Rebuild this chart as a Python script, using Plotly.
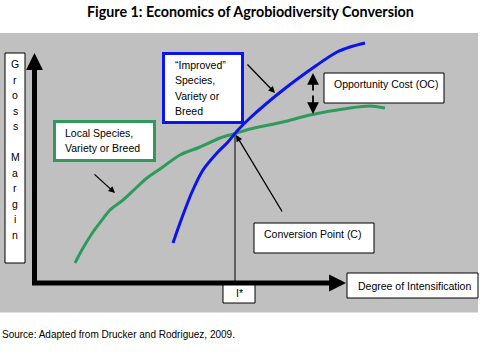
import plotly.graph_objects as go

# Conceptual data: degree of intensification (x) vs gross margin (y)
local_x = [40, 48, 58, 67, 75, 88, 102, 112, 125, 145, 165, 185, 202, 215, 248, 275, 315, 335, 350]
local_y = [20, 35, 51, 63, 73, 83, 96, 105, 114, 128, 136, 145, 150, 154, 161, 168, 175, 177, 175]

improved_x = [138, 145, 157, 168, 182, 192, 203, 215, 248, 282, 302, 315, 330]
improved_y = [40, 60, 91, 113, 130, 140, 153, 165, 193, 218, 231, 236, 240]

conv_x = 200
conv_y = 150

GREEN = "#2E9A5C"
BLUE = "#0A14F0"
FONT = "Liberation Sans, Arial, sans-serif"

fig = go.Figure()
fig.add_trace(go.Scatter(x=local_x, y=local_y, mode="lines",
                         line=dict(color=GREEN, width=3, shape="spline", smoothing=0.8), hoverinfo="skip"))
fig.add_trace(go.Scatter(x=improved_x, y=improved_y, mode="lines",
                         line=dict(color=BLUE, width=3, shape="spline", smoothing=0.8), hoverinfo="skip"))

shapes = []
annotations = []

def px(x):
    return x - 35

def py(y):
    return 283 - y

# gray background
shapes.append(dict(type="rect", xref="x", yref="y", x0=px(0), x1=px(478), y0=py(33), y1=py(312.5),
                   fillcolor="#C0C0C0", line=dict(width=0), layer="below"))

def box(x0, y0, x1, y1, color="black", width=1):
    shapes.append(dict(type="rect", xref="x", yref="y", x0=px(x0), x1=px(x1), y0=py(y0), y1=py(y1),
                       fillcolor="white", line=dict(color=color, width=width), layer="below"))

# vertical line from conversion point to x-axis
shapes.append(dict(type="line", xref="x", yref="y", x0=conv_x, x1=conv_x, y0=0, y1=conv_y,
                   line=dict(color="black", width=1), layer="below"))

# axes (thick lines)
shapes.append(dict(type="line", xref="x", yref="y", x0=px(34.5), x1=px(34.5), y0=py(285), y1=py(62),
                   line=dict(color="black", width=5), layer="above"))
shapes.append(dict(type="line", xref="x", yref="y", x0=px(32), x1=px(336), y0=py(283), y1=py(283),
                   line=dict(color="black", width=5), layer="above"))

# boxes
box(5, 53, 25, 263)                       # Gross Margin
box(163.5, 53.5, 242.5, 122.5, BLUE, 3)   # Improved
box(54.5, 121.5, 154.5, 160.5, GREEN, 3)  # Local
box(324, 73, 444, 103)                    # Opportunity cost
box(254, 223, 374, 253)                   # Conversion point
box(347, 273, 478, 298)                   # Degree of intensification
box(223, 283, 255, 303)                   # I*

def arrow(x_tail, y_tail, x_head, y_head, width=1.3, size=1.0, head=2):
    annotations.append(dict(x=px(x_head), y=py(y_head), ax=px(x_tail), ay=py(y_tail),
                            xref="x", yref="y", axref="x", ayref="y", text="",
                            showarrow=True, arrowhead=head, arrowsize=size,
                            arrowwidth=width, arrowcolor="black"))

# axis arrowheads
arrow(34.5, 70, 34.5, 53, width=4.5, size=0.75)
arrow(330, 283, 346, 283, width=4.5, size=0.75)

# pointer arrows
arrow(246, 63, 275, 93)
arrow(93, 173, 115, 193)
arrow(283, 213, 236, 135)
arrow(313, 92, 313, 73, width=1.8, size=1.3)
arrow(313, 94, 313, 114, width=1.8, size=1.3)

def text(x, y, s, size=10.5, anchor="left", font=FONT):
    annotations.append(dict(x=px(x), y=py(y), xref="x", yref="y", text=s, showarrow=False,
                            xanchor=anchor, yanchor="middle", align="left",
                            font=dict(family=font, size=size, color="black")))

# Gross Margin vertical letters
letters = ["G", "r", "o", "s", "s", "", "M", "a", "r", "g", "i", "n"]
for i, ch in enumerate(letters):
    if ch:
        text(15, 64 + i * 15.5, ch, anchor="center")

for i, line in enumerate(["\u201cImproved\u201d", "Species,", "Variety or", "Breed"]):
    text(173, 65 + i * 15.3, line)
for i, line in enumerate(["Local Species,", "Variety or Breed"]):
    text(63, 133 + i * 15, line)
text(332, 84, "Opportunity Cost (OC)")
text(262, 234, "Conversion Point (C)")
text(356, 285.5, "Degree of Intensification")
text(239, 293, "I*", anchor="center")

annotations.append(dict(x=0.5, y=py(11), xref="paper", yref="y",
                        text="<b>Figure 1: Economics of Agrobiodiversity Conversion</b>",
                        showarrow=False, xanchor="center", yanchor="middle",
                        font=dict(family="Lato, sans-serif", size=14.3, color="black")))
annotations.append(dict(x=0, y=py(334), xref="paper", yref="y",
                        text="Source: Adapted from Drucker and Rodriguez, 2009.",
                        showarrow=False, xanchor="left", yanchor="middle",
                        font=dict(family=FONT, size=10, color="black")))

fig.update_layout(
    width=500, height=353,
    margin=dict(l=0, r=0, t=0, b=0),
    paper_bgcolor="white", plot_bgcolor="white",
    showlegend=False,
    xaxis=dict(range=[px(0), px(500)], visible=False, fixedrange=True),
    yaxis=dict(range=[py(353), py(0)], visible=False, fixedrange=True),
    shapes=shapes, annotations=annotations,
)

fig.write_html("out.html")
